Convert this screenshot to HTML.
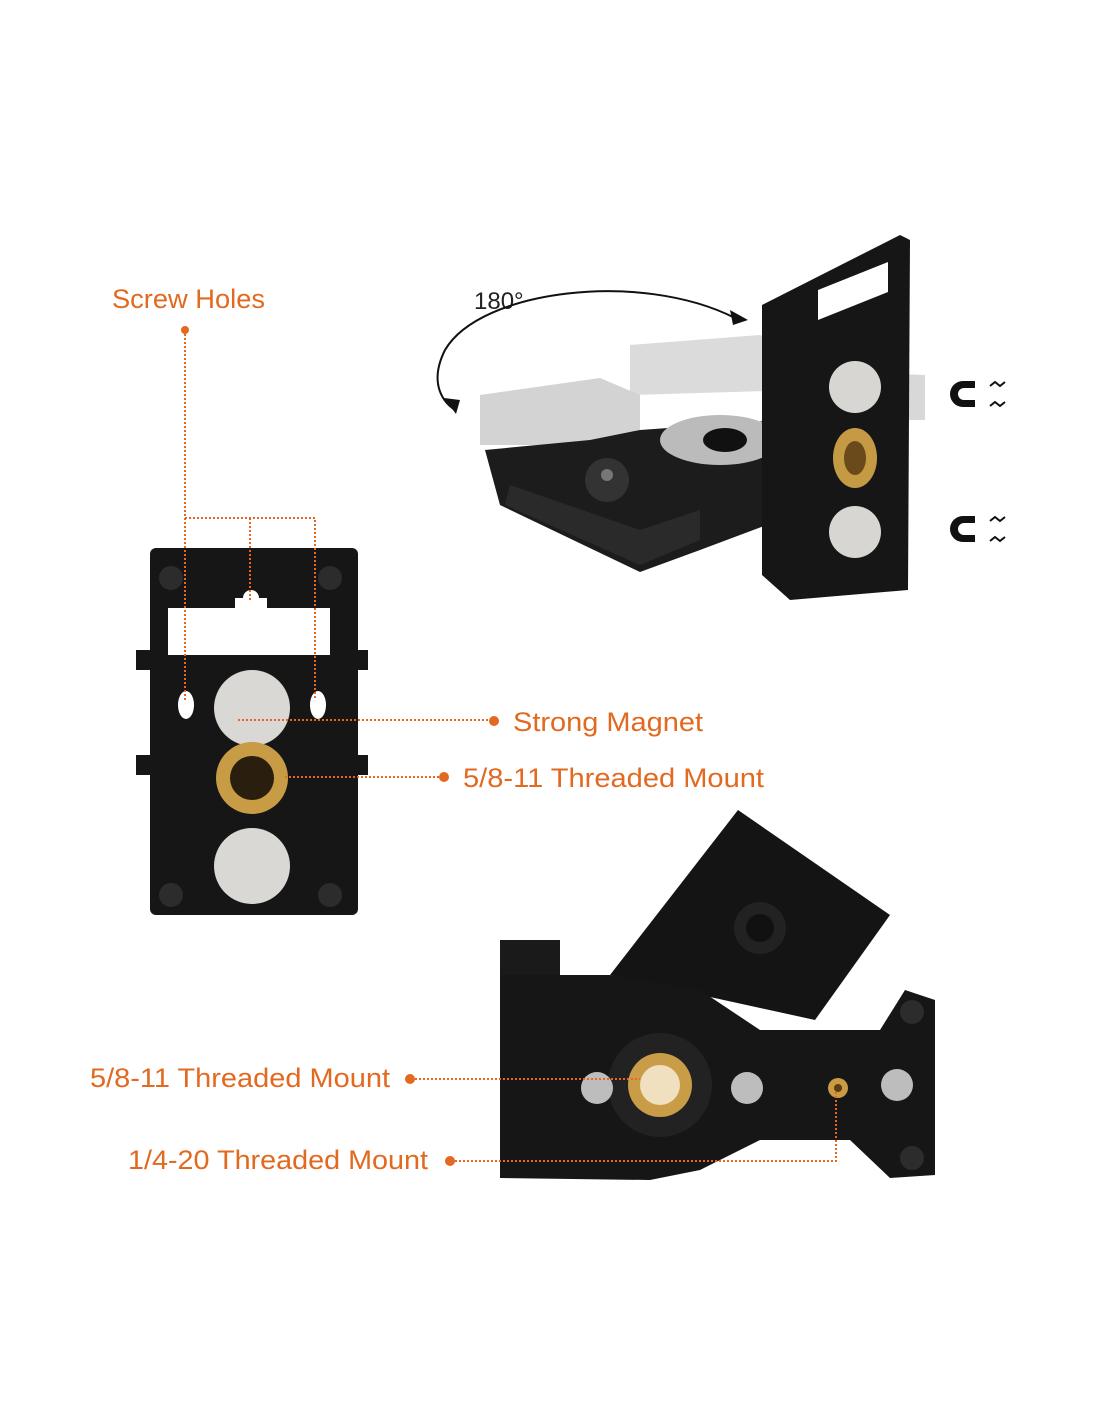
<!DOCTYPE html>
<html><head><meta charset="utf-8"><style>
html,body{margin:0;padding:0;background:#fff}
svg{display:block}
text{font-family:"Liberation Sans",sans-serif}
.o{fill:#e2691f;font-size:27px}
.d{stroke:#e2691f;stroke-width:2;stroke-dasharray:2 2;fill:none}
</style></head><body>
<svg width="1100" height="1422" viewBox="0 0 1100 1422" xmlns="http://www.w3.org/2000/svg">
<rect width="1100" height="1422" fill="#fff"/>

<!-- ===== Top right device ===== -->
<text x="474" y="309" font-family="Liberation Serif" font-size="24" fill="#222">180°</text>
<path d="M735 318 C640 270 480 290 445 350 C430 380 440 400 455 410" fill="none" stroke="#111" stroke-width="2"/>
<polygon points="748,320 730,310 733,325" fill="#111"/>
<polygon points="456,414 444,398 460,400" fill="#111"/>
<polygon points="480,395 600,378 640,395 640,445 480,445" fill="#c8c8c8" opacity="0.8"/>
<polygon points="630,345 760,335 800,350 800,390 630,395" fill="#d2d2d2" opacity="0.8"/>
<polygon points="790,370 925,375 925,420 790,420" fill="#c8c8c8" opacity="0.7"/>
<polygon points="485,450 590,440 640,430 780,420 780,520 700,550 640,572 500,505" fill="#1c1c1c"/>
<polygon points="510,485 640,530 700,510 700,540 640,565 505,505" fill="#2a2a2a"/>
<ellipse cx="720" cy="440" rx="60" ry="25" fill="#bbb"/>
<ellipse cx="725" cy="440" rx="22" ry="12" fill="#111"/>
<circle cx="607" cy="480" r="22" fill="#333"/>
<circle cx="607" cy="475" r="6" fill="#777"/>
<polygon points="762,305 900,235 910,240 908,590 790,600 762,575" fill="#161616"/>
<polygon points="818,290 888,262 888,292 818,320" fill="#fff"/>
<circle cx="855" cy="387" r="26" fill="#d8d6d2"/>
<ellipse cx="855" cy="458" rx="22" ry="30" fill="#c59a45"/>
<ellipse cx="855" cy="458" rx="11" ry="17" fill="#6a4a1a"/>
<circle cx="855" cy="532" r="26" fill="#d8d6d2"/>
<g fill="#111">
<path d="M975 381 h-12 a13 13 0 0 0 0 26 h12 v-7 h-11 a6 6 0 0 1 0 -12 h11z"/>
<path d="M975 516 h-12 a13 13 0 0 0 0 26 h12 v-7 h-11 a6 6 0 0 1 0 -12 h11z"/>
</g>
<g stroke="#111" stroke-width="2" fill="none">
<path d="M990 386 l5 -4 l5 4 l5 -4"/><path d="M990 406 l5 -4 l5 4 l5 -4"/>
<path d="M990 521 l5 -4 l5 4 l5 -4"/><path d="M990 541 l5 -4 l5 4 l5 -4"/>
</g>

<!-- ===== Left device ===== -->
<rect x="150" y="548" width="208" height="367" rx="6" fill="#161616"/>
<rect x="136" y="650" width="20" height="20" fill="#161616"/>
<rect x="136" y="755" width="20" height="20" fill="#161616"/>
<rect x="352" y="650" width="16" height="20" fill="#161616"/>
<rect x="352" y="755" width="16" height="20" fill="#161616"/>
<rect x="168" y="608" width="162" height="47" fill="#fff"/>
<path d="M235 608 v-10 h8 a8 8 0 0 1 16 0 h8 v10z" fill="#fff"/>
<ellipse cx="186" cy="705" rx="8" ry="14" fill="#fff"/>
<ellipse cx="318" cy="705" rx="8" ry="14" fill="#fff"/>
<circle cx="171" cy="578" r="12" fill="#2c2c2c"/>
<circle cx="330" cy="578" r="12" fill="#2c2c2c"/>
<circle cx="171" cy="895" r="12" fill="#2c2c2c"/>
<circle cx="330" cy="895" r="12" fill="#2c2c2c"/>
<circle cx="252" cy="708" r="38" fill="#dad8d4"/>
<circle cx="252" cy="778" r="36" fill="#c89b45"/>
<circle cx="252" cy="778" r="22" fill="#2a1e0e"/>
<circle cx="252" cy="866" r="38" fill="#dad8d4"/>

<text class="o" x="112" y="308" textLength="153" lengthAdjust="spacingAndGlyphs">Screw Holes</text>
<path class="d" d="M185 330 V700"/>
<circle cx="185" cy="330" r="4" fill="#e2691f"/>
<path class="d" d="M185 518 H315 V700"/>
<path class="d" d="M250 518 V600"/>

<path class="d" d="M238 720 H493"/>
<circle cx="494" cy="721" r="5" fill="#e2691f"/>
<text class="o" x="513" y="731" textLength="190" lengthAdjust="spacingAndGlyphs">Strong Magnet</text>
<path class="d" d="M285 777 H443"/>
<circle cx="444" cy="777" r="5" fill="#e2691f"/>
<text class="o" x="463" y="787" textLength="301" lengthAdjust="spacingAndGlyphs">5/8-11 Threaded Mount</text>

<!-- ===== Bottom device ===== -->
<polygon points="610,975 738,810 890,915 815,1020" fill="#141414"/>
<rect x="500" y="940" width="60" height="40" fill="#1a1a1a"/>
<path d="M500 975 L610 975 L700 990 L760 1030 L880 1030 L905 990 L935 1000 L935 1175 L890 1178 L850 1140 L760 1140 L700 1170 L650 1180 L500 1178 Z" fill="#161616"/>
<circle cx="660" cy="1085" r="52" fill="#222"/>
<circle cx="660" cy="1085" r="32" fill="#c99c48"/>
<circle cx="660" cy="1085" r="20" fill="#f0e0c0"/>
<circle cx="597" cy="1088" r="16" fill="#bdbdbd"/>
<circle cx="747" cy="1088" r="16" fill="#bdbdbd"/>
<circle cx="838" cy="1088" r="10" fill="#c89b45"/>
<circle cx="838" cy="1088" r="4" fill="#5a3c10"/>
<circle cx="897" cy="1085" r="16" fill="#bdbdbd"/>
<circle cx="760" cy="928" r="26" fill="#222"/>
<circle cx="760" cy="928" r="14" fill="#111"/>
<circle cx="912" cy="1158" r="12" fill="#2c2c2c"/>
<circle cx="912" cy="1012" r="12" fill="#2c2c2c"/>

<text class="o" x="90" y="1087" textLength="300" lengthAdjust="spacingAndGlyphs">5/8-11 Threaded Mount</text>
<circle cx="410" cy="1079" r="5" fill="#e2691f"/>
<path class="d" d="M411 1079 H640"/>
<text class="o" x="128" y="1169" textLength="300" lengthAdjust="spacingAndGlyphs">1/4-20 Threaded Mount</text>
<circle cx="450" cy="1161" r="5" fill="#e2691f"/>
<path class="d" d="M451 1161 H836 V1092"/>
</svg>
</body></html>
